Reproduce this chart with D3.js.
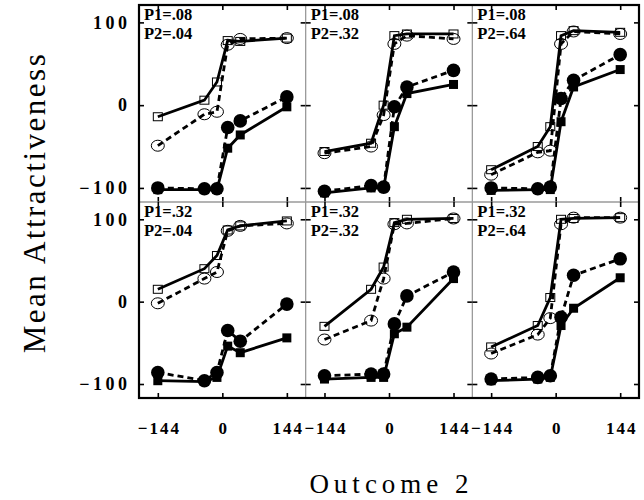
<!DOCTYPE html>
<html><head><meta charset="utf-8">
<script src="https://cdn.jsdelivr.net/npm/d3@7"></script>
<style>body{margin:0;background:#fff;}svg{display:block;}</style>
</head><body><svg id="c" width="644" height="500"></svg>
<script>
const xVals = [-144, -40, -12, 12, 40, 144];
const xTicks = [-144, 0, 144];
const yTicks = [-100, 0, 100];
const panelP1 = [".08", ".08", ".08", ".32", ".32", ".32"];
const panelP2 = [".04", ".32", ".64", ".04", ".32", ".64"];
const openSquares = [
  [-14, 6, 28, 78, 77, 81],
  [-56, -46, 0, 84, 86, 86],
  [-78, -50, -26, 84, 90, 88],
  [15, 40, 56, 87, 92, 98],
  [-30, 15, 42, 96, 100, 101],
  [-55, -29, 5, 100, 101, 102]
];
const openCircles = [
  [-49, -11, -8, 73, 80, 81],
  [-58, -50, -12, 74, 84, 80],
  [-84, -57, -55, 74, 89, 86],
  [-2, 28, 36, 86, 92, 95],
  [-46, -23, 28, 94, 95, 101],
  [-63, -40, -20, 94, 102, 102]
];
const filledCircles = [
  [-100, -101, -101, -27, -19, 10],
  [-104, -97, -99, -2, 22, 42],
  [-100, -101, -99, 8, 30, 61],
  [-86, -96, -86, -35, -48, -3],
  [-90, -88, -88, -27, 7, 36],
  [-94, -92, -90, -19, 32, 52]
];
const filledSquares = [
  [-102, -102, -102, -52, -36, -2],
  [-106, -100, -100, -26, 14, 25],
  [-103, -102, -102, -20, 22, 43],
  [-96, -97, -92, -54, -62, -44],
  [-94, -92, -92, -39, -31, 28],
  [-96, -94, -92, -29, -8, 29]
];

const svg = d3.select("#c");
const L = 139, R = 639, T = 5, B = 398, MID = 202;
const pw = (R - L) / 3;
const serif = "'Liberation Serif','DejaVu Serif',serif";
const fmt = d => d < 0 ? "\u2212" + Math.abs(d) : String(d);

const series = [
  {data: openCircles, dash: "6,4", shape: "ocircle"},
  {data: openSquares, dash: null, shape: "osquare"},
  {data: filledCircles, dash: "6,4", shape: "fcircle"},
  {data: filledSquares, dash: null, shape: "fsquare"}
];

for (let i = 0; i < 6; i++) {
  const col = i % 3, row = Math.floor(i / 3);
  const x0 = L + col * pw, y0 = row === 0 ? T : MID, y1 = row === 0 ? MID : B;
  const x = d3.scaleLinear().domain([-186, 186]).range([x0, x0 + pw]);
  const y = d3.scaleLinear().domain([-117, 121]).range([y1, y0]);
  const g = svg.append("g");

  g.append("rect").attr("x", x0).attr("y", y0).attr("width", pw).attr("height", y1 - y0)
    .attr("fill", "none").attr("stroke", "#999").attr("stroke-width", 1);

  const axB = g.append("g").attr("transform", `translate(0,${y1})`)
    .call(d3.axisBottom(x).tickValues(xTicks).tickSize(-5).tickPadding(24).tickFormat(fmt));
  const axT = g.append("g").attr("transform", `translate(0,${y0})`)
    .call(d3.axisTop(x).tickValues(xTicks).tickSize(-5));
  const axL = g.append("g").attr("transform", `translate(${x0},0)`)
    .call(d3.axisLeft(y).tickValues(yTicks).tickSize(-5).tickPadding(12).tickFormat(fmt));
  const axR = g.append("g").attr("transform", `translate(${x0 + pw},0)`)
    .call(d3.axisRight(y).tickValues(yTicks).tickSize(-5));
  axT.selectAll("text").remove();
  axR.selectAll("text").remove();
  if (row === 0) axB.selectAll("text").remove();
  if (col !== 0) axL.selectAll("text").remove();
  [axB, axT, axL, axR].forEach(a => {
    a.select(".domain").remove();
    a.selectAll(".tick line").attr("stroke", "#000").attr("stroke-width", 1.6);
    a.selectAll("text").attr("font-family", serif).attr("font-weight", "bold")
      .attr("fill", "#000");
  });
  axL.selectAll("text").attr("font-size", 18).attr("letter-spacing", 3.5).attr("dx", 3.5);
  axB.selectAll("text").attr("font-size", 17).attr("letter-spacing", 2).attr("dx", 1);

  const line = d3.line().x((d, j) => x(xVals[j])).y(d => y(d));
  series.forEach(s => {
    g.append("path").datum(s.data[i]).attr("d", line).attr("fill", "none")
      .attr("stroke", "#000").attr("stroke-width", 2.8)
      .attr("stroke-dasharray", s.dash);
  });
  series.forEach(s => {
    const pts = s.data[i].map((v, j) => [x(xVals[j]), y(v)]);
    if (s.shape === "ocircle") {
      g.selectAll(null).data(pts).enter().append("ellipse")
        .attr("cx", d => d[0]).attr("cy", d => d[1]).attr("rx", 6.5).attr("ry", 5.5)
        .attr("fill", "none").attr("stroke", "#000").attr("stroke-width", 1);
    } else if (s.shape === "osquare") {
      g.selectAll(null).data(pts).enter().append("rect")
        .attr("x", d => d[0] - 4.5).attr("y", d => d[1] - 4).attr("width", 9).attr("height", 8)
        .attr("fill", "none").attr("stroke", "#000").attr("stroke-width", 1);
    } else if (s.shape === "fcircle") {
      g.selectAll(null).data(pts).enter().append("circle")
        .attr("cx", d => d[0]).attr("cy", d => d[1]).attr("r", 6.8).attr("fill", "#000");
    } else {
      g.selectAll(null).data(pts).enter().append("rect")
        .attr("x", d => d[0] - 4.5).attr("y", d => d[1] - 4.5).attr("width", 9).attr("height", 9)
        .attr("fill", "#000");
    }
  });

  g.append("text").attr("font-family", serif).attr("font-weight", "bold")
    .attr("font-size", 16.5).attr("fill", "#000")
    .attr("x", x0 + 5).attr("y", y0 + 15).text("P1=" + panelP1[i]);
  g.append("text").attr("font-family", serif).attr("font-weight", "bold")
    .attr("font-size", 16.5).attr("fill", "#000")
    .attr("x", x0 + 5).attr("y", y0 + 34).text("P2=" + panelP2[i]);
}

svg.append("rect").attr("x", L).attr("y", T).attr("width", R - L).attr("height", B - T)
  .attr("fill", "none").attr("stroke", "#000").attr("stroke-width", 2.2);

svg.append("text").attr("transform", `translate(45,${(T + B) / 2 + 1}) rotate(-90)`)
  .attr("text-anchor", "middle").attr("font-family", serif).attr("font-size", 31)
  .attr("letter-spacing", 2.5).attr("fill", "#000").text("Mean Attractiveness");

svg.append("text").attr("x", (L + R) / 2 + 2.5).attr("y", 493).attr("text-anchor", "middle")
  .attr("font-family", serif).attr("font-size", 27).attr("letter-spacing", 5)
  .attr("fill", "#000").text("Outcome 2");
</script></body></html>
